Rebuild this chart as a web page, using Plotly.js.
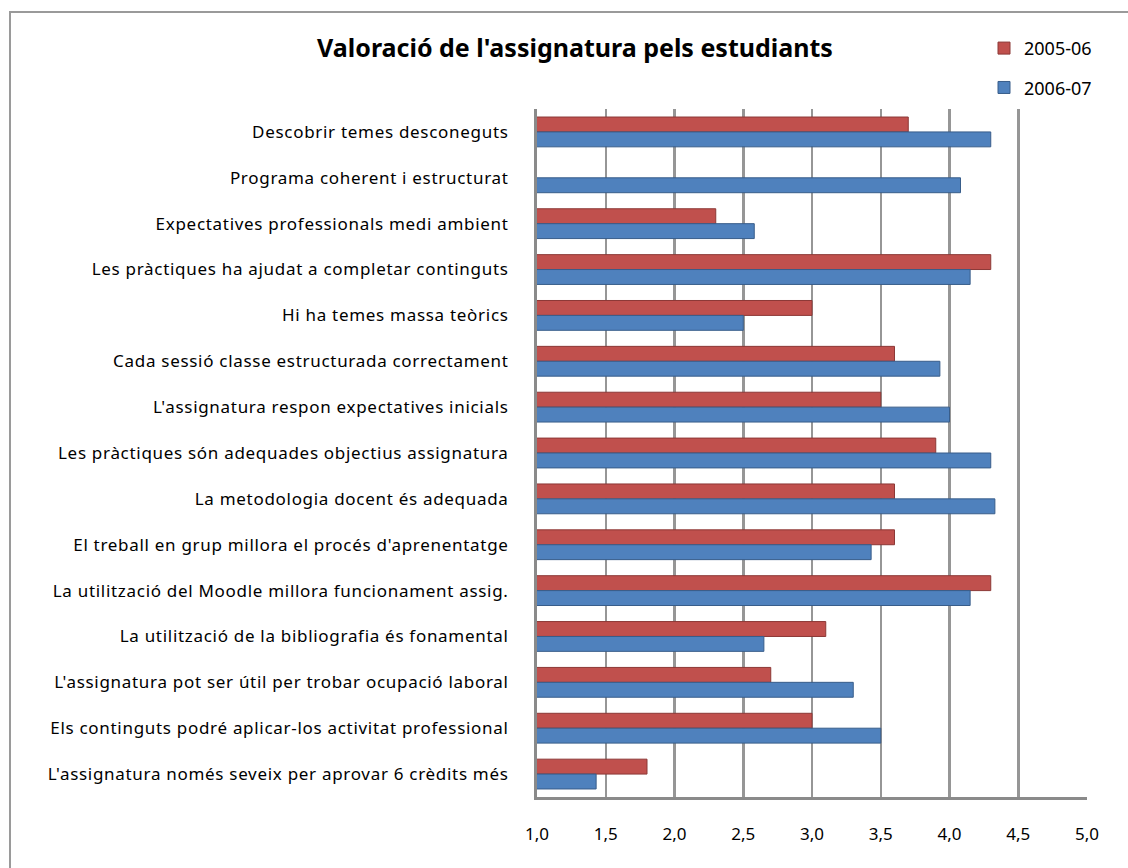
<!DOCTYPE html>
<html>
<head>
<meta charset="utf-8">
<script src="https://cdn.plot.ly/plotly-3.0.1.min.js"></script>
<style>
html,body{margin:0;padding:0;background:#fff;overflow:hidden;}
#wrap{position:relative;width:1128px;height:868px;}
#chart{position:absolute;left:0;top:0;width:1128px;height:868px;}
#frame{position:absolute;left:9px;top:11px;width:1300px;height:1000px;border:2px solid #9a9a9a;pointer-events:none;}
#chart .ytick text{letter-spacing:0.7px;}
</style>
</head>
<body>
<div id="wrap"><div id="chart"></div><div id="frame"></div></div>
<script>
const categories = [
  "Descobrir temes desconeguts",
  "Programa coherent i estructurat",
  "Expectatives professionals medi ambient",
  "Les pràctiques ha ajudat a completar continguts",
  "Hi ha temes massa teòrics",
  "Cada sessió classe estructurada correctament",
  "L'assignatura respon expectatives inicials",
  "Les pràctiques són adequades objectius assignatura",
  "La metodologia docent és adequada",
  "El treball en grup millora el procés d'aprenentatge",
  "La utilització del Moodle millora funcionament assig.",
  "La utilització de la bibliografia és fonamental",
  "L'assignatura pot ser útil per trobar ocupació laboral",
  "Els continguts podré aplicar-los activitat professional",
  "L'assignatura només seveix per aprovar 6 crèdits més"
];
const values2005 = [3.7, null, 2.3, 4.3, 3.0, 3.6, 3.5, 3.9, 3.6, 3.6, 4.3, 3.1, 2.7, 3.0, 1.8];
const values2006 = [4.3, 4.08, 2.58, 4.15, 2.5, 3.93, 4.0, 4.3, 4.33, 3.43, 4.15, 2.65, 3.3, 3.5, 1.43];
const seriesNames = ["2005-06", "2006-07"];
const xTicks = [1.0, 1.5, 2.0, 2.5, 3.0, 3.5, 4.0, 4.5, 5.0];

const traces = [
  {
    type: "bar", orientation: "h", name: seriesNames[0], legendgroup: "a",
    y: categories, x: values2005,
    marker: {color: "#C0504D", line: {color: "#8C3836", width: 1}}
  },
  {
    type: "bar", orientation: "h", name: seriesNames[1], legendgroup: "b",
    y: categories, x: values2006,
    marker: {color: "#4F81BD", line: {color: "#385D8A", width: 1}}
  }
];

const layout = {
  width: 1128, height: 868,
  paper_bgcolor: "#fff", plot_bgcolor: "#fff",
  margin: {l: 537, r: 41, t: 109, b: 71},
  separators: ", ",
  font: {family: "Noto Sans, sans-serif", size: 17, color: "#000"},
  title: {
    text: "<b>Valoració de l'assignatura pels estudiants</b>",
    font: {family: "Noto Sans, sans-serif", size: 25, color: "#000"},
    x: 575/1128, xanchor: "center", y: 1 - 48/868, yanchor: "middle"
  },
  barmode: "group", bargap: 0.35, bargroupgap: 0,
  showlegend: true,
  legend: {
    x: (984 - 537)/550, xanchor: "left", y: 1.115, yanchor: "top",
    font: {size: 18}, tracegroupgap: 13, traceorder: "grouped",
    itemwidth: 30
  },
  xaxis: {
    range: [1, 5], tickvals: xTicks, tickformat: ".1f",
    showgrid: true, gridcolor: "#969696", gridwidth: 2.5,
    showline: true, linecolor: "#8a8a8a", linewidth: 3,
    zeroline: false, ticks: "", ticklabelstandoff: 20,
    tickfont: {size: 17}, fixedrange: true
  },
  yaxis: {
    type: "category", autorange: "reversed",
    showgrid: false, showline: true, linecolor: "#8a8a8a", linewidth: 3,
    ticks: "", ticklabelstandoff: 22, tickfont: {size: 17}, fixedrange: true
  }
};

Plotly.newPlot("chart", traces, layout, {displayModeBar: false, staticPlot: true});
</script>
</body>
</html>
